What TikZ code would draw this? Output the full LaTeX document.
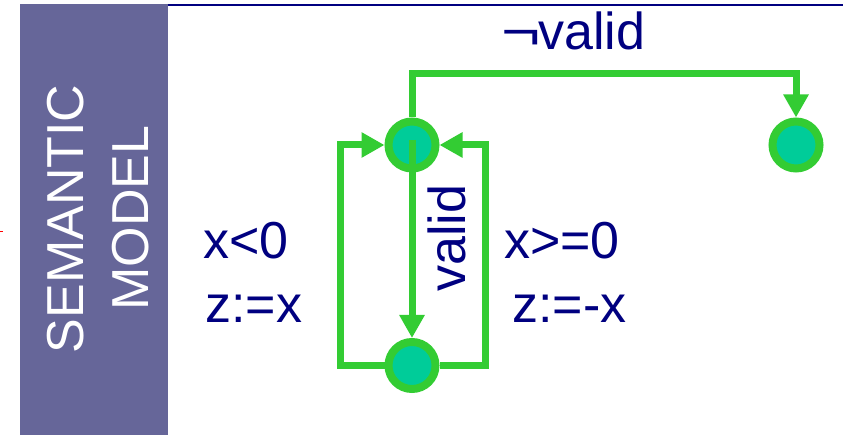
\documentclass[tikz,border=0pt]{standalone}
\usepackage{graphicx}
\usepackage{fontspec}
\setmainfont{Liberation Sans}
\usetikzlibrary{arrows.meta}
\definecolor{barpurple}{HTML}{666699}
\definecolor{navy}{HTML}{000080}
\definecolor{stategreen}{HTML}{33CC33}
\definecolor{statefill}{HTML}{00CC99}
\tikzset{
  state/.style={circle, draw=stategreen, fill=statefill, line width=8pt, minimum size=47pt, inner sep=0pt},
  edge/.style={draw=stategreen, line width=7pt, -{Triangle[length=23pt,width=24pt]}},
  lbl/.style={text=navy, font=\fontsize{52}{60}\selectfont, inner sep=0pt},
  side/.style={text=white, font=\fontsize{52}{60}\selectfont, inner sep=0pt, rotate=90, anchor=base}
}
\begin{document}
\begin{tikzpicture}[x=1pt,y=-1pt]
\useasboundingbox (0,0) rectangle (843,435);
% left bar
\fill[barpurple] (20,4) rectangle (168,435);
\draw[navy, line width=2.5pt] (168,5.2) -- (843,5.2);
\draw[red, line width=1pt] (0,232) -- (3,232);
\node[side] (sem) at (83,219) {SEMANTIC};
\node[side] (mod) at (148,218) {MODEL};
% states
\node[state] (t) at (412,145) {};
\node[state] (b) at (412,365.5) {};
\node[state] (r) at (796,145) {};
% edges
\draw[edge, shorten <=-5pt] (t.center) -- (b.north);
\draw[edge] (b.west) -- ++(-44,0) |- (t.west);
\draw[edge] (b.east) -- ++(46,0) |- (t.east);
\draw[edge] (t.north) -- ++(0,-44) -| (r.north);
% labels
\node[lbl, anchor=base west] (nv) at (501,50) {\makebox[37pt][l]{\scalebox{1.3}[1]{¬}}valid};
\node[lbl, anchor=base west] (g1) at (203,259) {x<0};
\node[lbl, anchor=base west] (a1) at (205,323) {z:=x};
\node[lbl, anchor=base west] (g2) at (504,259) {x>=0};
\node[lbl, anchor=base west] (a2) at (512,323) {z:=-x};
\node[lbl, anchor=base west, rotate=90] (v) at (465,292) {valid};
\end{tikzpicture}
\end{document}
